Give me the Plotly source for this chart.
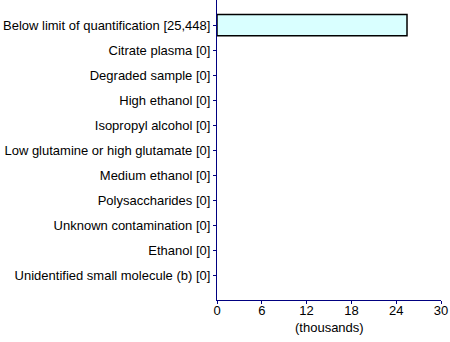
import plotly.graph_objects as go

categories = [
    "Below limit of quantification [25,448]",
    "Citrate plasma [0]",
    "Degraded sample [0]",
    "High ethanol [0]",
    "Isopropyl alcohol [0]",
    "Low glutamine or high glutamate [0]",
    "Medium ethanol [0]",
    "Polysaccharides [0]",
    "Unknown contamination [0]",
    "Ethanol [0]",
    "Unidentified small molecule (b) [0]",
]
counts = [25448, 0, 0, 0, 0, 0, 0, 0, 0, 0, 0]
tick_vals = [0, 6, 12, 18, 24, 30]
x_title = "(thousands)"

pos = list(range(len(categories)))
fig = go.Figure(go.Bar(
    x=[c / 1000 for c in counts],
    y=pos,
    orientation="h",
    width=0.85,
    marker=dict(color="#d9ffff",
                line=dict(color="black", width=[1.5 if c > 0 else 0 for c in counts])),
))
axis_color = "#000080"
fig.update_layout(
    width=450, height=342,
    margin=dict(l=217, r=9, t=0, b=42),
    paper_bgcolor="white", plot_bgcolor="white",
    font=dict(family="Liberation Sans, Arial", size=13, color="black"),
    showlegend=False,
    xaxis=dict(
        range=[0, 30], tickvals=tick_vals, ticktext=[str(v) for v in tick_vals],
        showgrid=False, zeroline=False, showline=True, linecolor=axis_color, linewidth=1,
        ticks="outside", ticklen=3, tickcolor=axis_color, automargin=False,
        ticklabelstandoff=-5,
    ),
    yaxis=dict(
        range=[11, -1], tickvals=pos, ticktext=categories, automargin=False,
        showgrid=False, zeroline=False, showline=True, linecolor=axis_color, linewidth=1,
        ticks="outside", ticklen=3, tickcolor=axis_color,
    ),
    annotations=[dict(text=x_title, xref="paper", yref="paper", x=0.5, y=0,
                      xanchor="center", yanchor="middle", yshift=-27,
                      showarrow=False, font=dict(size=13))],
)
fig.write_html("out.html")
